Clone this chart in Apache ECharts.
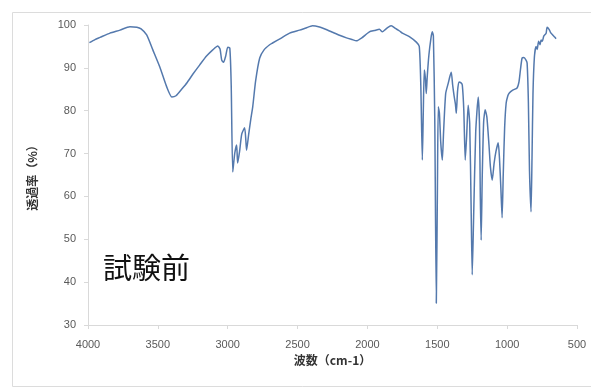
<!DOCTYPE html>
<html>
<head>
<meta charset="utf-8">
<script src="https://cdn.jsdelivr.net/npm/echarts@6/dist/echarts.min.js"></script>
<style>
  html, body { margin: 0; padding: 0; background: #fff; }
  #chart { width: 591px; height: 390px; }
</style>
</head>
<body>
<div id="chart"></div>
<script>
// IR spectrum: wavenumber (cm-1) vs transmittance (%)
const wavenumber = [
  3990, 3950, 3914, 3843, 3771, 3700, 3650, 3620, 3580, 3536, 3486, 3436, 3400, 3370, 3330, 3290,
  3250, 3200, 3150, 3107, 3071, 3055, 3043, 3030, 3014, 3000, 2985, 2975, 2964, 2950, 2936, 2929,
  2915, 2900, 2879, 2870, 2865, 2850, 2835, 2821, 2800, 2771, 2740, 2700, 2679, 2620, 2557, 2486,
  2440, 2393, 2350, 2300, 2250, 2200, 2150, 2110, 2079, 2040, 1986, 1950, 1914, 1893, 1870, 1850,
  1829, 1800, 1770, 1750, 1700, 1650, 1629, 1618, 1607, 1600, 1593, 1585, 1579, 1572, 1560, 1545,
  1536, 1528, 1518, 1507, 1499, 1493, 1485, 1475, 1464, 1455, 1440, 1421, 1410, 1400, 1390, 1380,
  1370, 1364, 1355, 1345, 1330, 1321, 1310, 1300, 1290, 1279, 1268, 1258, 1250, 1240, 1225, 1207,
  1198, 1192, 1186, 1178, 1168, 1157, 1145, 1130, 1120, 1107, 1093, 1080, 1064, 1055, 1045, 1036,
  1028, 1018, 1007, 995, 986, 960, 929, 915, 905, 893, 880, 865, 857, 848, 840, 829,
  822, 815, 805, 793, 785, 775, 765, 757, 748, 738, 721, 714, 700, 690, 675, 660, 650
];
const transmittance = [
  95.9, 96.6, 97.1, 98.1, 98.8, 99.6, 99.5, 99.1, 97.7, 94.2, 90.2, 85.5, 83.2, 83.5, 85.0, 86.6,
  88.5, 90.7, 92.8, 94.2, 95.1, 94.4, 91.8, 91.3, 92.8, 94.8, 94.6, 86.0, 65.7, 70.0, 72.0, 67.8,
  70.5, 74.5, 76.0, 73.0, 70.8, 74.5, 78.0, 80.9, 87.0, 92.3, 94.2, 95.4, 95.8, 96.9, 98.1, 98.8,
  99.3, 99.8, 99.6, 99.0, 98.3, 97.6, 97.0, 96.6, 96.3, 97.0, 98.4, 98.7, 99.0, 98.4, 99.0, 99.5,
  99.8, 99.2, 98.6, 98.1, 97.3, 96.0, 95.0, 86.0, 68.5, 80.0, 89.5, 87.5, 84.0, 87.9, 93.0, 97.0,
  98.4, 97.5, 78.0, 35.1, 62.0, 80.9, 79.5, 72.5, 68.5, 75.0, 84.0, 86.5, 88.0, 89.0, 86.0, 83.5,
  81.5, 79.4, 84.5, 86.7, 86.5, 86.0, 80.0, 68.5, 74.0, 81.3, 77.0, 58.0, 41.7, 55.0, 75.0, 83.2,
  77.0, 60.0, 49.8, 65.0, 77.5, 80.2, 78.5, 72.0, 67.0, 63.8, 67.8, 70.5, 72.5, 69.0, 62.0, 55.0,
  65.0, 76.0, 81.8, 83.5, 84.1, 84.8, 85.3, 86.8, 89.5, 92.3, 92.4, 91.8, 91.1, 82.0, 66.0, 56.4,
  69.0, 84.0, 92.5, 95.0, 94.3, 96.2, 95.4, 96.5, 96.2, 97.4, 98.1, 99.5, 99.0, 98.3, 97.7, 97.2, 96.8
];
const xTicks = [4000, 3500, 3000, 2500, 2000, 1500, 1000, 500];
const yTicks = [30, 40, 50, 60, 70, 80, 90, 100];
const sampleLabel = '試験前';

const points = wavenumber.map((w, i) => [w, transmittance[i]]);
const labelColor = '#595959';
const axisColor = '#d9d9d9';
const font = '"Noto Sans CJK JP", "Noto Sans", sans-serif';

const chart = echarts.init(document.getElementById('chart'), null, { renderer: 'canvas' });
chart.setOption({
  animation: false,
  backgroundColor: '#ffffff',
  grid: { left: 88, right: 14, top: 25, bottom: 65 },
  graphic: [
    {
      type: 'rect',
      shape: { x: 12.5, y: 12.5, width: 600, height: 374 },
      style: { fill: 'none', stroke: '#dcdcdc', lineWidth: 1 },
      silent: true
    },
    {
      type: 'text',
      left: 103,
      top: 253,
      style: { text: sampleLabel, font: '29px ' + font, fill: '#111111' }
    }
  ],
  xAxis: {
    type: 'value',
    inverse: true,
    min: xTicks[xTicks.length - 1],
    max: xTicks[0],
    interval: 500,
    name: '波数（cm-1）',
    nameLocation: 'middle',
    nameGap: 28,
    nameTextStyle: { color: '#333', fontSize: 12, fontWeight: 'bold', fontFamily: font },
    axisLine: { show: true, lineStyle: { color: axisColor } },
    axisTick: { show: true, length: 4, lineStyle: { color: axisColor } },
    axisLabel: {
      color: labelColor, fontSize: 11, margin: 14, fontFamily: 'Liberation Sans, sans-serif',
      formatter: v => String(v)
    },
    splitLine: { show: false }
  },
  yAxis: {
    type: 'value',
    min: yTicks[0],
    max: yTicks[yTicks.length - 1],
    interval: 10,
    name: '透過率（%）',
    nameLocation: 'middle',
    nameGap: 50,
    nameRotate: 90,
    nameTextStyle: { color: '#333', fontSize: 12, fontWeight: 'bold', fontFamily: font },
    axisLine: { show: true, lineStyle: { color: axisColor } },
    axisTick: { show: true, length: 4, lineStyle: { color: axisColor } },
    axisLabel: { color: labelColor, fontSize: 11, margin: 12, fontFamily: 'Liberation Sans, sans-serif' },
    splitLine: { show: false }
  },
  series: [{
    type: 'line',
    data: points,
    showSymbol: false,
    smooth: 0.2,
    lineStyle: { color: '#5479ad', width: 1.5 },
    silent: true
  }]
});
</script>
</body>
</html>
